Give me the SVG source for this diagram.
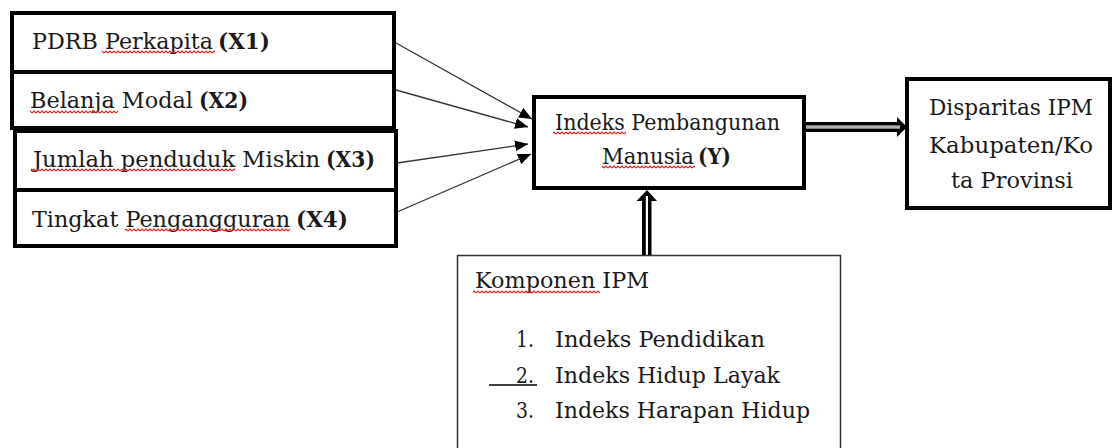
<svg xmlns="http://www.w3.org/2000/svg" width="1112" height="448" viewBox="0 0 1112 448">
<style>
.box{fill:#fff;stroke:#000;stroke-width:4}
.thin{fill:#fff;stroke:#333;stroke-width:1.5}
.t{font-family:"DejaVu Serif","Liberation Serif",serif;font-size:23px;fill:#1a1a1a}
.b{font-weight:bold}
.ln{stroke:#333;stroke-width:1.3;fill:none}
.sq{fill:url(#squig)}
</style>
<defs>
<pattern id="squig" patternUnits="userSpaceOnUse" width="4" height="4">
<path d="M0 3 L2 1 L4 3" fill="none" stroke="#e02424" stroke-width="1.2"/>
</pattern>
<marker id="ah" markerUnits="userSpaceOnUse" markerWidth="14" markerHeight="12" viewBox="0 0 14 12" refX="13" refY="6" orient="auto">
<path d="M0,0.5 L13,6 L0,11.5 z" fill="#000"/>
</marker>
</defs>

<g id="connectors">
<line class="ln" x1="396" y1="43" x2="532" y2="119" marker-end="url(#ah)"/>
<line class="ln" x1="396" y1="90" x2="528" y2="127" marker-end="url(#ah)"/>
<line class="ln" x1="397" y1="163" x2="528" y2="144" marker-end="url(#ah)"/>
<line class="ln" x1="397" y1="212" x2="531" y2="154" marker-end="url(#ah)"/>
<g id="double-h">
<rect x="806" y="122" width="92" height="10" fill="#000"/>
<polygon points="897,117 907,127 897,137" fill="#000"/>
<rect x="806" y="125.3" width="94" height="3.4" fill="#b0b0b0"/>
</g>
<g id="double-v">
<rect x="642" y="200" width="9.5" height="55" fill="#000"/>
<polygon points="636.5,201 647,190 657,201" fill="#000"/>
<rect x="645.8" y="196" width="2.2" height="59" fill="#fff"/>
</g>
</g>

<g id="x1">
<rect class="box" x="12" y="13" width="382" height="59"/>
<text class="t" x="32" y="49" textLength="181" lengthAdjust="spacingAndGlyphs">PDRB Perkapita</text>
<text class="t b" x="218" y="49" textLength="52" lengthAdjust="spacingAndGlyphs">(X1)</text>
<rect class="sq" x="102" y="0" width="113" height="4" transform="translate(0,50)"/>
</g>
<g id="x2">
<rect class="box" x="12" y="72" width="382" height="56"/>
<text class="t" x="30" y="108" textLength="163" lengthAdjust="spacingAndGlyphs">Belanja Modal</text>
<text class="t b" x="199" y="108" textLength="49" lengthAdjust="spacingAndGlyphs">(X2)</text>
<rect class="sq" x="30" y="0" width="88" height="4" transform="translate(0,110)"/>
</g>
<g id="x3">
<rect class="box" x="15" y="131" width="381" height="59"/>
<text class="t" x="33" y="167" textLength="287" lengthAdjust="spacingAndGlyphs">Jumlah penduduk Miskin</text>
<text class="t b" x="326" y="167" textLength="49" lengthAdjust="spacingAndGlyphs">(X3)</text>
<rect class="sq" x="32" y="0" width="203" height="4" transform="translate(0,168)"/>
</g>
<g id="x4">
<rect class="box" x="15" y="190" width="381" height="56"/>
<text class="t" x="32" y="227" textLength="258" lengthAdjust="spacingAndGlyphs">Tingkat Pengangguran</text>
<text class="t b" x="296" y="227" textLength="52" lengthAdjust="spacingAndGlyphs">(X4)</text>
<rect class="sq" x="125" y="0" width="165" height="4" transform="translate(0,228)"/>
</g>

<g id="y">
<rect class="box" x="534" y="97" width="270" height="91"/>
<text class="t" x="555" y="130" textLength="225" lengthAdjust="spacingAndGlyphs">Indeks Pembangunan</text>
<text class="t" x="602" y="164" textLength="92" lengthAdjust="spacingAndGlyphs">Manusia</text>
<text class="t b" x="698" y="164" textLength="33" lengthAdjust="spacingAndGlyphs">(Y)</text>
<rect class="sq" x="553" y="0" width="73" height="4" transform="translate(0,131)"/>
<rect class="sq" x="602" y="0" width="93" height="4" transform="translate(0,165)"/>
</g>

<g id="disparitas">
<rect class="box" x="907" y="79" width="203" height="129"/>
<text class="t" x="929" y="115" textLength="164" lengthAdjust="spacingAndGlyphs">Disparitas IPM</text>
<text class="t" x="929" y="153" textLength="164" lengthAdjust="spacingAndGlyphs">Kabupaten/Ko</text>
<text class="t" x="951" y="188" textLength="122" lengthAdjust="spacingAndGlyphs">ta Provinsi</text>
</g>

<g id="komponen">
<rect class="thin" x="457.5" y="255.5" width="383" height="210"/>
<text class="t" x="475" y="288" textLength="174" lengthAdjust="spacingAndGlyphs">Komponen IPM</text>
<rect class="sq" x="473" y="0" width="127" height="4" transform="translate(0,290)"/>
<text class="t" x="516" y="347" textLength="18" lengthAdjust="spacingAndGlyphs">1.</text>
<text class="t" x="555" y="347" textLength="210" lengthAdjust="spacingAndGlyphs">Indeks Pendidikan</text>
<text class="t" x="516" y="383" textLength="18" lengthAdjust="spacingAndGlyphs">2.</text>
<line x1="489" y1="385" x2="537" y2="385" stroke="#000" stroke-width="1.3"/>
<text class="t" x="555" y="383" textLength="225" lengthAdjust="spacingAndGlyphs">Indeks Hidup Layak</text>
<text class="t" x="516" y="418" textLength="18" lengthAdjust="spacingAndGlyphs">3.</text>
<text class="t" x="555" y="418" textLength="255" lengthAdjust="spacingAndGlyphs">Indeks Harapan Hidup</text>
</g>
</svg>
